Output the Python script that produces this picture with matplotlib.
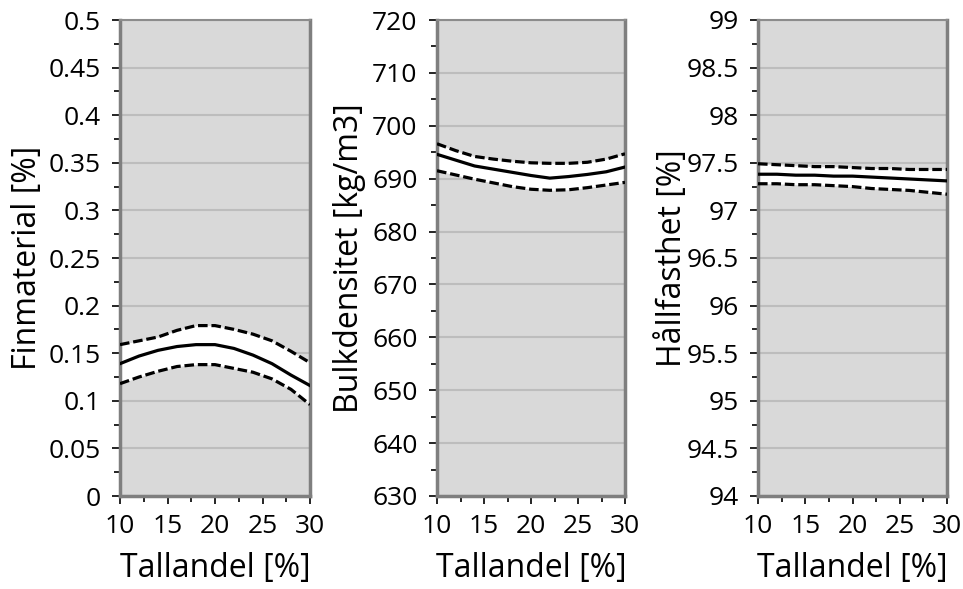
import matplotlib
matplotlib.use("Agg")
import matplotlib.pyplot as plt
from matplotlib.ticker import MultipleLocator, FuncFormatter

plt.rcParams['font.family'] = ['Open Sans', 'DejaVu Sans']

# Share of pine (x) and modelled response with confidence band
tallandel = [10, 12, 14, 16, 18, 20, 22, 24, 26, 28, 30]

fin_mean = [0.139, 0.147, 0.153, 0.157, 0.159, 0.159, 0.155, 0.148, 0.139, 0.127, 0.116]
fin_upper = [0.159, 0.163, 0.167, 0.174, 0.179, 0.179, 0.175, 0.170, 0.163, 0.152, 0.140]
fin_lower = [0.118, 0.125, 0.131, 0.136, 0.138, 0.138, 0.134, 0.130, 0.123, 0.112, 0.096]

bulk_mean = [694.6, 693.5, 692.4, 691.8, 691.2, 690.6, 690.1, 690.4, 690.8, 691.3, 692.2]
bulk_upper = [696.6, 695.3, 694.2, 693.7, 693.3, 693.0, 692.9, 692.9, 693.1, 693.7, 694.7]
bulk_lower = [691.5, 690.7, 689.9, 689.2, 688.5, 688.0, 687.8, 687.9, 688.3, 688.8, 689.3]

hall_mean = [97.38, 97.38, 97.37, 97.37, 97.36, 97.36, 97.35, 97.34, 97.33, 97.32, 97.31]
hall_upper = [97.49, 97.48, 97.47, 97.46, 97.46, 97.45, 97.44, 97.44, 97.43, 97.43, 97.43]
hall_lower = [97.28, 97.28, 97.27, 97.27, 97.26, 97.25, 97.23, 97.22, 97.21, 97.19, 97.17]

panels = [
    ("Finmaterial [%]", fin_mean, fin_upper, fin_lower, (0, 0.5), 0.05),
    ("Bulkdensitet [kg/m3]", bulk_mean, bulk_upper, bulk_lower, (630, 720), 10),
    ("Hållfasthet [%]", hall_mean, hall_upper, hall_lower, (94, 99), 0.5),
]

W, H = 963, 589
boxes = [(120, 310), (437, 625), (758, 947)]
ylabel_x_px = [28, 349, 672]
top_px, bottom_px = 20, 496
xlabel_y_px = 569

fig = plt.figure(figsize=(W / 100, H / 100), dpi=100)

for (label, mean, upper, lower, ylim, step), (x0, x1), lx in zip(panels, boxes, ylabel_x_px):
    ax = fig.add_axes([x0 / W, (H - bottom_px) / H, (x1 - x0) / W, (bottom_px - top_px) / H])
    ax.set_facecolor('#d9d9d9')
    ax.set_xlim(10, 30)
    ax.set_ylim(*ylim)
    ax.yaxis.set_major_locator(MultipleLocator(step))
    ax.yaxis.set_minor_locator(MultipleLocator(step / 2))
    ax.xaxis.set_major_locator(MultipleLocator(5))
    ax.xaxis.set_minor_locator(MultipleLocator(2.5))
    ax.yaxis.set_major_formatter(FuncFormatter(lambda v, p: f"{round(v, 3):g}"))
    ax.grid(True, which='major', axis='y', color='#bdbdbd', linewidth=1.5, zorder=0)
    ax.set_axisbelow(True)

    ax.plot(tallandel, upper, color='black', linewidth=2.3, dashes=(3.0, 1.2), zorder=3)
    ax.plot(tallandel, lower, color='black', linewidth=2.3, dashes=(3.0, 1.2), zorder=3)
    ax.fill_between(tallandel, lower, upper, color='white', linewidth=0, zorder=2)
    ax.plot(tallandel, mean, color='black', linewidth=2.3, zorder=4)

    for side in ('left', 'right', 'bottom'):
        ax.spines[side].set_color('#7f7f7f')
        ax.spines[side].set_linewidth(2.5)
    ax.spines['top'].set_color('#8c8c8c')
    ax.spines['top'].set_linewidth(1.5)

    ax.tick_params(axis='both', which='major', direction='out', length=6, width=1.2,
                   color='black', labelsize=19)
    ax.tick_params(axis='y', which='major', pad=8)
    ax.tick_params(axis='x', which='major', pad=7)
    ax.tick_params(axis='both', which='minor', direction='out', length=4, width=1.2,
                   color='black')

    ax.set_xlabel("Tallandel [%]", fontsize=23, va='center')
    ax.xaxis.set_label_coords(0.5, (bottom_px - xlabel_y_px) / (bottom_px - top_px))
    ax.set_ylabel(label, fontsize=23, va='center')
    ax.yaxis.set_label_coords((lx - x0) / (x1 - x0), 0.5)

fig.savefig("out.png", dpi=100)
